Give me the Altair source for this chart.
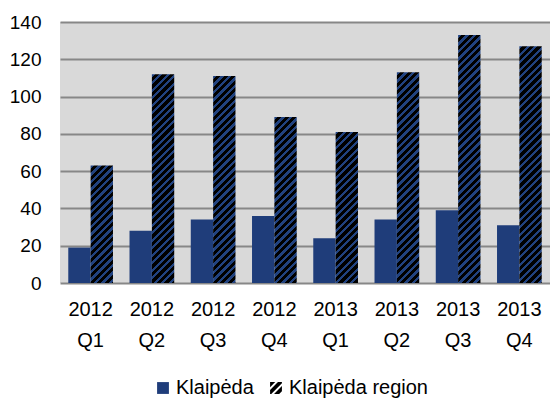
import altair as alt
import pandas as pd

quarters = ["2012 Q1", "2012 Q2", "2012 Q3", "2012 Q4",
            "2013 Q1", "2013 Q2", "2013 Q3", "2013 Q4"]
klaipeda = [19, 28, 34, 36, 24, 34, 39, 31]
region = [63, 112, 111, 89, 81, 113, 133, 127]
series = ["Klaipėda", "Klaipėda region"]
y_ticks = [0, 20, 40, 60, 80, 100, 120, 140]

W, H, YMAX = 490, 261, 140
PAD_INNER = 0.27
BLUE = "#1f3d7a"
STRIPE_BLUE = "#21427f"
PERIOD = 7.5
BLUE_FRAC = 0.45
FONT = "Liberation Sans"
FS = 20

rows = []
for q, a, b in zip(quarters, klaipeda, region):
    rows.append({"quarter": q, "series": series[0], "value": a})
    rows.append({"quarter": q, "series": series[1], "value": b})
df = pd.DataFrame(rows)


# ---------- legend stripe symbol (path in unit square) ----------
def clip(poly, a, b, c):
    # keep a*x + b*y <= c
    out = []
    n = len(poly)
    for i in range(n):
        p, q = poly[i], poly[(i + 1) % n]
        fp = a * p[0] + b * p[1] - c
        fq = a * q[0] + b * q[1] - c
        if fp <= 0:
            out.append(p)
        if (fp < 0 < fq) or (fq < 0 < fp):
            t = fp / (fp - fq)
            out.append((p[0] + t * (q[0] - p[0]), p[1] + t * (q[1] - p[1])))
    return out


square = [(-1, -1), (1, -1), (1, 1), (-1, 1)]
path_parts = []
per = 4 / 3.0
c = -2.0
while c < 2.0:
    band = clip(square, 1, 1, c + per * 0.65)
    band = clip(band, -1, -1, -c)
    if len(band) >= 3:
        path_parts.append("M" + "L".join(f"{x:.3f},{y:.3f}" for x, y in band) + "Z")
    c += per
STRIPE_PATH = "".join(path_parts)

x_enc = alt.X(
    "quarter:N",
    sort=quarters,
    scale=alt.Scale(domain=quarters, paddingInner=PAD_INNER, paddingOuter=PAD_INNER / 2),
    axis=alt.Axis(title=None, labelExpr="split(datum.label, ' ')", ticks=False,
                  domain=False, grid=False, labelPadding=16, labelLineHeight=31,
                  labelAngle=0),
)
xo_enc = alt.XOffset("series:N", sort=series,
                     scale=alt.Scale(domain=series, paddingInner=0, paddingOuter=0))
y_axis = alt.Axis(title=None, values=y_ticks, ticks=False, domain=False,
                  grid=True, gridColor="#878787", gridWidth=2, labelPadding=19,
                  labelFontSize=19)
y_scale = alt.Scale(domain=[0, YMAX], nice=False)
y_enc = alt.Y("value:Q", scale=y_scale, axis=y_axis)

legend_def = alt.Legend(title=None, orient="none", legendX=93, legendY=356,
                        direction="horizontal", symbolSize=140,
                        labelFontSize=FS, labelFont=FONT, labelColor="black",
                        columnPadding=12, labelOffset=3, padding=0,
                        symbolStrokeWidth=0)

base = alt.Chart(df)

legend_layer = base.transform_calculate(half="datum.value / 2").mark_point(
    filled=True, size=20, opacity=1
).encode(
    x=x_enc,
    xOffset=xo_enc,
    y=alt.Y("half:Q", scale=y_scale, axis=y_axis),
    color=alt.Color("series:N", scale=alt.Scale(domain=series, range=[BLUE, "black"]),
                    legend=legend_def),
    shape=alt.Shape("series:N", scale=alt.Scale(domain=series, range=["square", STRIPE_PATH]),
                    legend=legend_def),
)

solid = base.transform_filter(alt.datum.series == series[0]).mark_bar(color=BLUE).encode(
    x=x_enc, xOffset=xo_enc, y=y_enc
)

layers = [legend_layer, solid]

step = W / len(quarters)
bar_w = step * (1 - PAD_INNER) / 2
for q, v in zip(quarters, region):
    h = v / YMAX * H
    w = bar_w
    L = w + h
    stops = []
    f = 0.0
    while f < L - 1e-9:
        t0 = f / L
        t1 = min((f + PERIOD * BLUE_FRAC) / L, 1.0)
        t2 = min((f + PERIOD) / L, 1.0)
        stops += [
            {"offset": round(t0, 5), "color": STRIPE_BLUE},
            {"offset": round(t1, 5), "color": STRIPE_BLUE},
            {"offset": round(t1, 5), "color": "#000000"},
            {"offset": round(t2, 5), "color": "#000000"},
        ]
        f += PERIOD
    s = (w * w + h * h) / L
    grad = {"gradient": "linear", "x1": 0, "y1": 0,
            "x2": round(w / s, 6), "y2": round(h / s, 6), "stops": stops}
    layer = base.transform_filter(
        (alt.datum.series == series[1]) & (alt.datum.quarter == q)
    ).mark_bar(color=grad).encode(x=x_enc, xOffset=xo_enc, y=y_enc)
    layers.append(layer)

chart = alt.layer(*layers).properties(
    width=W, height=H,
    autosize=alt.AutoSizeParams(type="none"),
    padding={"left": 52, "top": 14, "right": 0, "bottom": 118},
).configure_view(fill="#d9d9d9", strokeWidth=0).configure_axis(
    labelFont=FONT, labelFontSize=FS, labelColor="black"
)

chart.save("out.html", embed_options={"renderer": "svg", "actions": False})
